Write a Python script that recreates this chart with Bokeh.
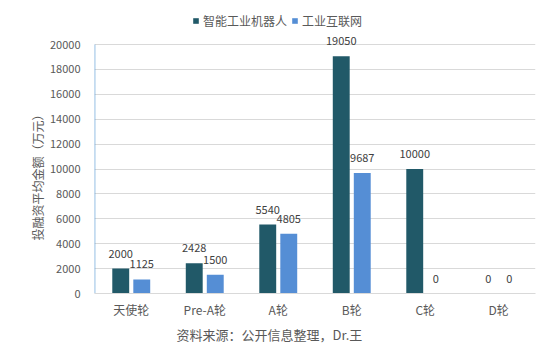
from bokeh.plotting import figure
from bokeh.models import (ColumnDataSource, FactorRange, Range1d, LabelSet, Legend, LegendItem,
                          FixedTicker, Title)
from bokeh.core.properties import value
from bokeh.transform import dodge
from bokeh.embed import file_html
from bokeh.resources import INLINE

categories = ["天使轮", "Pre-A轮", "A轮", "B轮", "C轮", "D轮"]
robot = [2000, 2428, 5540, 19050, 10000, 0]
iiot = [1125, 1500, 4805, 9687, 0, 0]
series_names = ["智能工业机器人", "工业互联网"]
y_ticks = list(range(0, 20001, 2000))
y_title = "投融资平均金额（万元）"
caption = "资料来源：公开信息整理，Dr.王"

FONT = "Noto Sans CJK SC"
DARK = "#215968"
LIGHT = "#558ED5"

# layout: frame spans pixel rows 0..293, value axis top (20000) sits at row 44
FRAME_H = 293
AXIS_TOP_PX = 44
y_max = y_ticks[-1] * FRAME_H / (FRAME_H - AXIS_TOP_PX)

src = ColumnDataSource(dict(cat=categories, robot=robot, iiot=iiot,
                            robot_lbl=[str(v) for v in robot],
                            iiot_lbl=[str(v) for v in iiot]))

p = figure(width=551, height=358, x_range=FactorRange(*categories, range_padding=0),
           y_range=Range1d(0, y_max), output_backend="svg", toolbar_location=None,
           min_border_left=94, min_border_right=16, min_border_top=0, min_border_bottom=65)
p.outline_line_color = None
p.background_fill_color = "white"
p.border_fill_color = "white"

r1 = p.vbar(x=dodge("cat", -0.143, range=p.x_range), top="robot", width=0.23, source=src,
            fill_color=DARK, line_color=None)
r2 = p.vbar(x=dodge("cat", 0.143, range=p.x_range), top="iiot", width=0.23, source=src,
            fill_color=LIGHT, line_color=None)

for col, off in (("robot", -0.143), ("iiot", 0.143)):
    p.add_layout(LabelSet(x=dodge("cat", off, range=p.x_range), y=col, text=col + "_lbl",
                          source=src, text_align="center", text_baseline="alphabetic", y_offset=11,
                          text_font=value(FONT), text_font_size="11px", text_color="#404040"))

# value-axis line only from 0 to the top tick
axsrc = ColumnDataSource(dict(x=[categories[0]], y0=[y_ticks[0]], y1=[y_ticks[-1]]))
p.segment(x0=dodge("x", -0.5 + 0.004, range=p.x_range), x1=dodge("x", -0.5 + 0.004, range=p.x_range),
          y0="y0", y1="y1", source=axsrc, line_color="#5B9BD5", line_width=1)

p.yaxis.ticker = FixedTicker(ticks=y_ticks)
p.yaxis.axis_line_color = None
p.yaxis.major_tick_line_color = None
p.yaxis.minor_tick_line_color = None
p.yaxis.major_label_text_font = FONT
p.yaxis.major_label_text_font_size = "11px"
p.yaxis.major_label_text_color = "#595959"
p.yaxis.major_label_standoff = 8

ytitle = Title(text=y_title, align="left", offset=53,
               text_font=FONT, text_font_size="12px", text_font_style="normal",
               text_color="#595959", standoff=2)
p.add_layout(ytitle, "left")

p.xaxis.axis_line_color = "#D9D9D9"
p.xaxis.major_tick_line_color = None
p.xaxis.minor_tick_line_color = None
p.xaxis.major_label_text_font = FONT
p.xaxis.major_label_text_font_size = "12px"
p.xaxis.major_label_text_color = "#595959"
p.xaxis.major_label_standoff = 1

p.xgrid.grid_line_color = None
p.ygrid.grid_line_color = "#D9D9D9"

legend = Legend(items=[LegendItem(label=series_names[0], renderers=[r1]),
                       LegendItem(label=series_names[1], renderers=[r2])],
                orientation="horizontal", location=(98, 264), padding=0, margin=0, spacing=4,
                border_line_color=None, background_fill_alpha=0,
                glyph_width=7, glyph_height=7, label_standoff=4,
                label_text_font=FONT, label_text_font_size="12px", label_text_color="#595959")
p.add_layout(legend, "center")

cap = Title(text=caption, align="left", offset=82,
            text_font=FONT, text_font_size="13px", text_font_style="normal",
            text_color="#595959", standoff=5)
p.add_layout(cap, "below")

open("out.html", "w").write(file_html(p, INLINE))
